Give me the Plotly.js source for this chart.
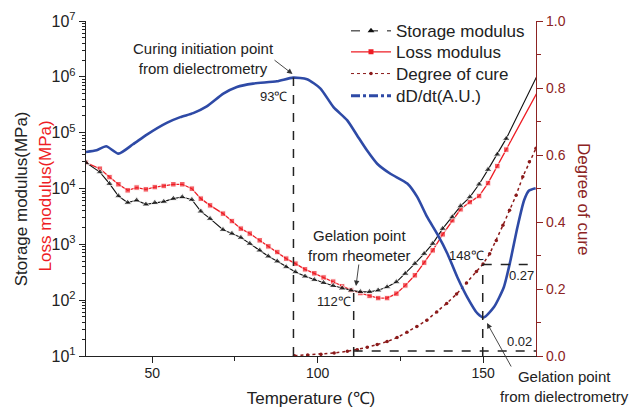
<!DOCTYPE html>
<html>
<head>
<meta charset="utf-8">
<script src="https://cdn.plot.ly/plotly-3.0.1.min.js"></script>
<style>html,body{margin:0;padding:0;background:#fff;}#chart{width:639px;height:410px;}</style>
</head>
<body>
<div id="chart"></div>
<script>
// Temperature (°C) for rheometer data
const tempRheo = [30.0, 34.2, 37.1, 39.8, 42.6, 45.3, 48.1, 50.8, 53.5, 56.4, 59.1, 62.0, 64.7, 67.5, 71.4, 74.1, 76.8, 79.5, 82.5, 85.1, 87.8, 90.5, 93.3, 96.2, 99.0, 101.8, 104.7, 107.4, 110.1, 112.9, 115.7, 118.3, 121.0, 123.8, 126.5, 129.4, 132.2, 134.8, 137.8, 140.7, 143.2, 146.0, 148.8, 151.5, 154.3, 157.0, 166.4];
// Storage modulus (MPa)
const storageModulus = [29000, 19700, 12200, 7330, 5580, 6140, 5200, 5580, 5820, 6580, 7030, 6310, 3900, 2880, 1830, 1560, 1320, 1030, 781, 610, 497, 393, 319, 267, 231, 205, 181, 163, 150, 141, 141, 150, 172, 211, 299, 451, 681, 1030, 1910, 3080, 4850, 7030, 11900, 21800, 40800, 78200, 1060000];
// Loss modulus (MPa)
const lossModulus = [29000, 22600, 16000, 11900, 9270, 10400, 9660, 10600, 11100, 11900, 11900, 9930, 6580, 4990, 3550, 2610, 1910, 1560, 1180, 920, 728, 555, 451, 357, 303, 255, 215, 177, 152, 134, 119, 109, 109, 131, 184, 279, 470, 781, 1510, 2690, 4240, 5710, 7330, 12500, 25200, 49700, 533000];
// Degree of cure
const tempCure = [93, 97, 101, 105, 109, 112, 115, 118, 121, 124, 127, 130, 133, 136, 139, 142, 145, 148, 150, 152, 154, 156, 158, 160, 162, 164, 166];
const degreeOfCure = [0.001, 0.003, 0.005, 0.009, 0.014, 0.019, 0.026, 0.034, 0.043, 0.055, 0.071, 0.088, 0.107, 0.131, 0.157, 0.185, 0.218, 0.252, 0.275, 0.305, 0.345, 0.39, 0.435, 0.48, 0.535, 0.58, 0.62];
// dD/dt (arbitrary units)
const tempDiel = [30, 33.2, 36.1, 39.8, 44.2, 48.4, 54.4, 58.5, 62.4, 66.5, 71.5, 75.6, 80.5, 87.7, 92.6, 96.8, 100.8, 104.8, 108.9, 111.9, 114.9, 118.0, 122.0, 127.1, 130.1, 133.1, 136.1, 139.2, 142.2, 145.2, 148.3, 150.2, 153.3, 156.3, 158.3, 160.4, 162.4, 163.9, 165.9];
const dDdt = [0.609, 0.614, 0.626, 0.604, 0.632, 0.661, 0.696, 0.713, 0.725, 0.745, 0.783, 0.803, 0.813, 0.820, 0.831, 0.826, 0.799, 0.743, 0.704, 0.659, 0.614, 0.574, 0.544, 0.515, 0.475, 0.415, 0.365, 0.306, 0.236, 0.176, 0.127, 0.115, 0.146, 0.206, 0.286, 0.385, 0.465, 0.494, 0.501];
// Tick labels
const logTickVals = [10, 100, 1000, 10000, 100000, 1000000, 10000000];
const logTickText = ['10<sup>1</sup>', '10<sup>2</sup>', '10<sup>3</sup>', '10<sup>4</sup>', '10<sup>5</sup>', '10<sup>6</sup>', '10<sup>7</sup>'];
const xTickVals = [50, 100, 150];

const FONT = 'Liberation Sans, Arial, sans-serif';
const RED = '#ee1c24';
const MAROON = '#8b1a1a';
const BLUE = '#2e4aa6';
const AXMAROON = '#8c2323';

// plot-area pixel geometry helpers for annotations
const L = 86, R = 536, T = 21, B = 356;
const pxX = p => (p - L) / (R - L);
const pxY = p => (B - p) / (B - T);

const lastHidden = (arr, s) => arr.map((_, i) => i === arr.length - 1 ? 0 : s);

const traces = [
  {x: tempDiel, y: dDdt, yaxis: 'y3', mode: 'lines', line: {color: BLUE, width: 2.6, shape: 'spline', smoothing: 0.6}, showlegend: false, hoverinfo: 'skip'},
  {x: tempCure, y: degreeOfCure, yaxis: 'y2', mode: 'lines+markers', line: {color: MAROON, width: 1.5, dash: 'dot'}, marker: {symbol: 'circle', size: 3.5, color: MAROON}, showlegend: false},
  {x: tempRheo, y: lossModulus, yaxis: 'y', mode: 'lines+markers', line: {color: RED, width: 1.3}, marker: {symbol: 'square', size: lastHidden(tempRheo, 5.5), color: RED}, showlegend: false},
  {x: tempRheo, y: storageModulus, yaxis: 'y', mode: 'lines+markers', line: {color: '#111', width: 1.1}, marker: {symbol: 'triangle-up', size: lastHidden(tempRheo, 7), color: '#111'}, showlegend: false},
  // legend entries
  {x: [null], y: [null], name: 'Storage modulus', legend: 'legend', mode: 'lines+markers', line: {color: '#111', width: 1, dash: 'dash'}, marker: {symbol: 'triangle-up', size: 6, color: '#111'}},
  {x: [null], y: [null], name: 'Loss modulus', legend: 'legend2', mode: 'lines+markers', line: {color: RED, width: 1.2}, marker: {symbol: 'square', size: 5, color: RED}},
  {x: [null], y: [null], name: 'Degree of cure', legend: 'legend3', yaxis: 'y2', mode: 'lines+markers', line: {color: MAROON, width: 1, dash: 'dot'}, marker: {symbol: 'circle', size: 3.5, color: MAROON}},
  {x: [null], y: [null], name: 'dD/dt(A.U.)', legend: 'legend4', yaxis: 'y3', mode: 'lines', line: {color: BLUE, width: 3, dash: 'dashdot'}}
];

const dashLine = {color: '#222', width: 1.5, dash: 'dash'};
const shapes = [
  {type: 'line', xref: 'x', yref: 'y2', x0: 92.7, x1: 92.7, y0: 0, y1: 0.831, line: dashLine},
  {type: 'line', xref: 'x', yref: 'y2', x0: 110.9, x1: 110.9, y0: 0, y1: 0.2, line: dashLine},
  {type: 'line', xref: 'x', yref: 'y2', x0: 149.9, x1: 149.9, y0: 0, y1: 0.273, line: dashLine},
  {type: 'line', xref: 'x', yref: 'y2', x0: 149.9, x1: 166, y0: 0.273, y1: 0.273, line: dashLine},
  {type: 'line', xref: 'x', yref: 'y2', x0: 110.9, x1: 166, y0: 0.015, y1: 0.015, line: dashLine}
];

const txt = (text, x, y, size, extra) => Object.assign({text: text, xref: 'paper', yref: 'paper', x: pxX(x), y: pxY(y), xanchor: 'center', yanchor: 'middle', showarrow: false, font: {family: FONT, size: size, color: '#222'}}, extra || {});
const arrow = (tx, ty, hx, hy) => ({text: '', xref: 'paper', yref: 'paper', axref: 'paper', ayref: 'paper', x: pxX(hx), y: pxY(hy), ax: pxX(tx), ay: pxY(ty), showarrow: true, arrowhead: 2, arrowsize: 1.2, arrowwidth: 0.9, arrowcolor: '#333', standoff: 0, startstandoff: 0});

const annotations = [
  txt('Curing initiation point<br>from dielectrometry', 203, 58, 15),
  arrow(273, 59, 292.5, 74),
  txt('93℃', 273, 96.5, 13),
  txt('Gelation point<br>from rheometer', 359, 245.5, 15),
  arrow(359, 263, 356, 286),
  txt('112℃', 334, 301.5, 13),
  txt('148℃', 466, 255, 13),
  txt('0.27', 521, 275, 13),
  txt('0.02', 519, 341, 13),
  txt('Gelation point<br>from dielectrometry', 564, 386.5, 15),
  arrow(512, 368, 487, 323),
  txt('Degree of cure', 583, 199, 17, {textangle: 90, font: {family: FONT, size: 17, color: AXMAROON}}),
  txt('Storage modulus(MPa)', 22.3, 199, 17, {textangle: -90, font: {family: FONT, size: 17, color: '#222'}}),
  txt('Loss modulus(MPa)', 45, 196.5, 17, {textangle: -90, font: {family: FONT, size: 17, color: RED}})
];

const legendBase = top => ({x: pxX(346), y: pxY(top), xanchor: 'left', yanchor: 'top', bgcolor: 'rgba(0,0,0,0)', font: {family: FONT, size: 17, color: '#222'}, itemwidth: 40, tracegroupgap: 0});

const layout = {
  width: 639, height: 410,
  margin: {l: L, r: 639 - R, t: T, b: 410 - B, pad: 0},
  paper_bgcolor: '#fff', plot_bgcolor: 'rgba(0,0,0,0)',
  font: {family: FONT, color: '#222'},
  showlegend: true,
  legend: legendBase(13.3),
  legend2: legendBase(34.3),
  legend3: legendBase(56),
  legend4: legendBase(78.3),
  xaxis: {
    range: [30, 166], tickmode: 'array', tickvals: xTickVals, ticks: 'outside', ticklen: 6, tickcolor: '#222',
    showline: true, linecolor: '#222', linewidth: 1.2, showgrid: false, zeroline: false,
    tickfont: {family: FONT, size: 14, color: '#222'}, ticklabelstandoff: -2,
    minor: {dtick: 25, tick0: 0, ticks: 'outside', ticklen: 4, tickcolor: '#222', showgrid: false},
    title: {text: 'Temperature (℃)', font: {family: FONT, size: 17, color: '#222'}, standoff: 12}
  },
  yaxis: {
    type: 'log', range: [1, 7], tickmode: 'array', tickvals: logTickVals, ticktext: logTickText,
    ticks: 'outside', ticklen: 6, tickcolor: '#222', showline: true, linecolor: '#222', linewidth: 1.2,
    showgrid: false, zeroline: false, tickfont: {family: FONT, size: 16, color: '#222'},
    minor: {dtick: 'D1', ticks: 'outside', ticklen: 3, tickcolor: '#222', showgrid: false}
  },
  yaxis2: {
    overlaying: 'y', side: 'right', range: [0, 1], dtick: 0.2, tick0: 0, tickformat: '.1f',
    ticks: 'outside', ticklen: 6, tickcolor: AXMAROON, showline: true, linecolor: AXMAROON, linewidth: 1.2,
    showgrid: false, zeroline: false, tickfont: {family: FONT, size: 14, color: AXMAROON},
    minor: {dtick: 0.1, tick0: 0, ticks: 'outside', ticklen: 4, tickcolor: AXMAROON, showgrid: false}
  },
  yaxis3: {overlaying: 'y', range: [0, 1], visible: false},
  shapes: shapes,
  annotations: annotations
};

Plotly.newPlot('chart', traces, layout, {staticPlot: true, displayModeBar: false});
</script>
</body>
</html>
